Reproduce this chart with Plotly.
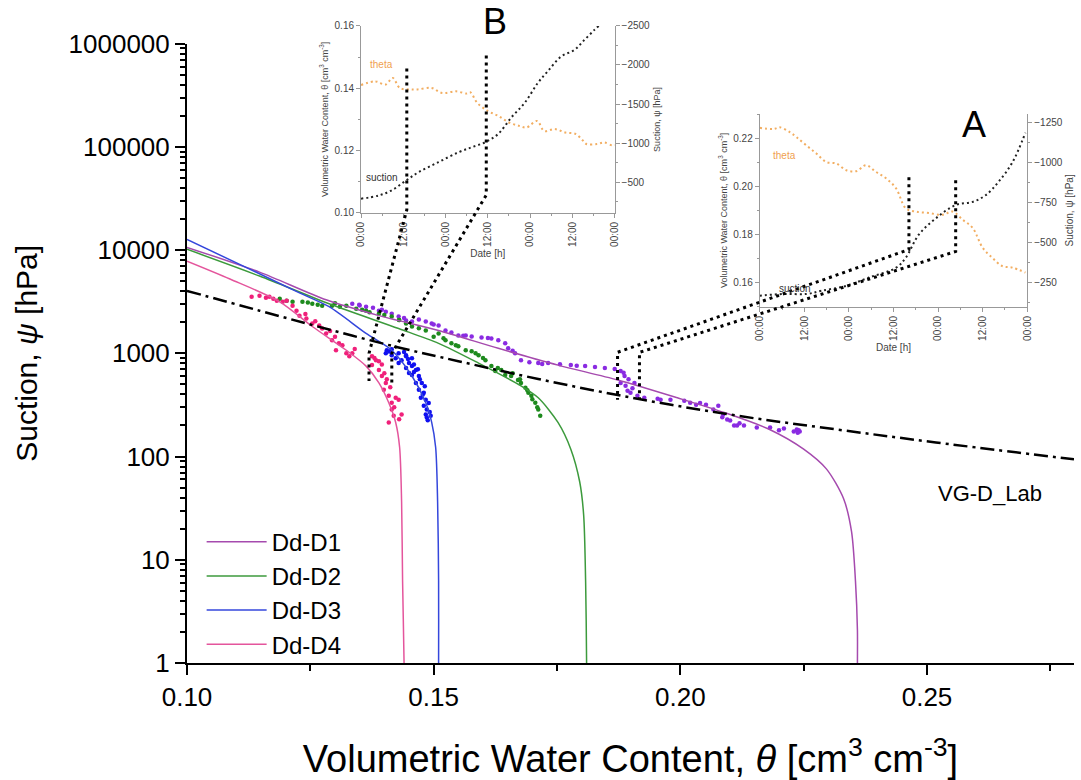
import plotly.graph_objects as go

# ---------------- main chart data ----------------
# fitted curves (theta [cm3/cm3], suction [hPa])
d1_curve_theta = [0.1000, 0.1147, 0.1282, 0.1389, 0.1510, 0.1631, 0.1752, 0.1873, 0.1994, 0.2089,
                  0.2181, 0.2250, 0.2296, 0.2331, 0.2347, 0.2355, 0.2359, 0.2359, 0.2359]
d1_curve_psi = [10640, 6120, 3300, 2320, 1665, 1119, 769, 552, 371, 267,
                183, 118, 76, 39, 18.8, 6.25, 2.07, 1, 0.5]

d2_curve_theta = [0.1000, 0.1147, 0.1288, 0.1429, 0.1510, 0.1591, 0.1677, 0.1712, 0.1752, 0.1778,
                  0.1796, 0.1804, 0.1808, 0.1810, 0.1810]
d2_curve_psi = [10180, 5610, 3022, 1740, 1250, 804, 484, 371, 214, 118, 57, 27.4, 6.25, 1, 0.5]

d3_curve_theta = [0.1000, 0.1127, 0.1228, 0.1288, 0.1363, 0.1415, 0.1456, 0.1484, 0.1496, 0.1504,
                  0.1508, 0.1510, 0.1510, 0.1510]
d3_curve_psi = [12690, 6545, 3853, 2829, 1559, 1071, 603, 332, 214, 123, 36.5, 6.25, 1, 0.5]

d4_curve_theta = [0.1000, 0.1087, 0.1188, 0.1254, 0.1323, 0.1363, 0.1389, 0.1409, 0.1423, 0.1431,
                  0.1435, 0.1437, 0.1440, 0.1440]
d4_curve_psi = [7810, 5250, 3159, 1820, 1071, 752, 517, 332, 214, 123, 36.5, 6.25, 1, 0.5]

lab_theta = [0.1000, 0.1147, 0.1288, 0.1429, 0.1550, 0.1712, 0.1913, 0.2115, 0.2317, 0.2518, 0.2798]
lab_psi = [4030, 2590, 1700, 1140, 840, 564, 363, 249, 183, 137, 94]

# measured points
d1_pts_theta = [0.1335, 0.1349, 0.1363, 0.1377, 0.1389, 0.1403, 0.1415, 0.1429, 0.1444, 0.1456,
                0.1470, 0.1484, 0.1496, 0.1510, 0.1524, 0.1536, 0.1550, 0.1565, 0.1577, 0.1597,
                0.1617, 0.1631, 0.1645, 0.1651, 0.1665, 0.1677, 0.1694, 0.1712, 0.1732, 0.1756,
                0.1778, 0.1807, 0.1827, 0.1847, 0.1867, 0.1879, 0.1887, 0.1879, 0.1893, 0.1907,
                0.1913, 0.1889, 0.1899, 0.1927, 0.1954, 0.1980, 0.2008, 0.2020, 0.2032, 0.2052,
                0.2067, 0.2077, 0.2087, 0.2095, 0.2101, 0.2109, 0.2115, 0.2129, 0.2155, 0.2182,
                0.2210, 0.2230, 0.2242, 0.2236,
                0.1350, 0.1395, 0.1440, 0.1500, 0.1560, 0.1610, 0.1660, 0.1720, 0.1790, 0.1885,
                0.1895, 0.1903, 0.1960, 0.2040, 0.2085, 0.2120, 0.2200, 0.2240, 0.2238]
d1_pts_psi = [3022, 2956, 2829, 2767, 2590, 2533, 2424, 2269, 2077, 2032,
              2123, 2032, 1944, 1860, 1665, 1594, 1491, 1491, 1459, 1427,
              1396, 1336, 1250, 1119, 1002, 859, 822, 804, 804, 786,
              769, 752, 736, 720, 704, 674, 603, 517, 433, 517,
              388, 484, 414, 371, 363, 355, 347, 332, 318, 318,
              285, 311, 255, 228, 223, 200, 200, 200, 191, 191,
              187, 175, 175, 183,
              2900, 2650, 2200, 1900, 1480, 1410, 1060, 790, 760, 650,
              560, 460, 355, 330, 240, 210, 180, 180, 170]

d2_pts_theta = [0.1188, 0.1202, 0.1214, 0.1234, 0.1254, 0.1274, 0.1294, 0.1323, 0.1343, 0.1363,
                0.1389, 0.1415, 0.1444, 0.1456, 0.1484, 0.1510, 0.1524, 0.1536, 0.1550, 0.1565,
                0.1577, 0.1591, 0.1605, 0.1617, 0.1625, 0.1637, 0.1645, 0.1657, 0.1671, 0.1677,
                0.1686, 0.1692, 0.1698, 0.1706, 0.1712, 0.1716, 0.1300, 0.1370, 0.1430, 0.1500,
                0.1245, 0.1265, 0.1310, 0.1355, 0.1400, 0.1430, 0.1470, 0.1520, 0.1545, 0.1585,
                0.1600, 0.1630, 0.1660, 0.1675, 0.1690, 0.1700, 0.1710]
d2_pts_psi = [3376, 3229, 3159, 3159, 3022, 2892, 2892, 2892, 2707, 2590,
              2424, 2269, 1944, 1819, 1665, 1559, 1336, 1250, 1170, 1071,
              1047, 959, 859, 752, 674, 689, 617, 603, 552, 517,
              463, 414, 388, 332, 285, 249, 3050, 2500, 2100, 1450,
              3100, 2950, 2820, 2650, 2350, 2100, 1750, 1400, 1200, 1000,
              900, 720, 640, 560, 440, 360, 300]

d3_pts_theta = [0.1405, 0.1415, 0.1429, 0.1444, 0.1423, 0.1435, 0.1450, 0.1456, 0.1444, 0.1464,
                0.1456, 0.1470, 0.1464, 0.1476, 0.1470, 0.1480, 0.1474, 0.1484, 0.1480, 0.1486,
                0.1484, 0.1494, 0.1486, 0.1444, 0.1456, 0.1429, 0.1450, 0.1403, 0.1415,
                0.1410, 0.1440, 0.1448, 0.1460, 0.1468, 0.1460, 0.1472, 0.1482, 0.1478, 0.1490,
                0.1492, 0.1488]
d3_pts_psi = [1071, 1095, 1002, 959, 898, 859, 804, 752, 720, 689,
              617, 603, 517, 517, 443, 414, 371, 355, 311, 285,
              255, 249, 239, 938, 898, 804, 645, 1002, 959,
              1040, 1030, 880, 780, 700, 660, 560, 480, 400, 330,
              270, 225]

d4_pts_theta = [0.1131, 0.1147, 0.1167, 0.1182, 0.1194, 0.1202, 0.1214, 0.1222, 0.1228, 0.1242,
                0.1254, 0.1268, 0.1274, 0.1282, 0.1294, 0.1308, 0.1302, 0.1323, 0.1335, 0.1329,
                0.1375, 0.1383, 0.1389, 0.1375, 0.1389, 0.1395, 0.1403, 0.1399, 0.1409, 0.1415,
                0.1423, 0.1429, 0.1415, 0.1419, 0.1409, 0.1435,
                0.1160, 0.1175, 0.1240, 0.1260, 0.1290, 0.1300, 0.1315, 0.1340, 0.1380, 0.1395,
                0.1400, 0.1405, 0.1412, 0.1420, 0.1430]
d4_pts_psi = [3527, 3606, 3527, 3229, 3159, 3229, 2892, 2590, 2319, 2170,
              1944, 1860, 1740, 1559, 1336, 1250, 1071, 1002, 1002, 938,
              938, 859, 840, 769, 689, 603, 517, 443, 388, 332,
              371, 355, 285, 249, 214, 255,
              3450, 3380, 2400, 2050, 1650, 1450, 1200, 1100, 900, 780,
              640, 560, 470, 300, 230]

# ---------------- inset data (hours from start) ----------------
b_theta_t = [0, 4, 7, 9, 11, 14, 16, 20, 23, 27, 30, 31, 33, 36, 39, 42, 45, 47, 50, 52,
             55, 58, 61, 63, 64, 67, 69, 71.5, 72]
b_theta = [0.1410, 0.1422, 0.1412, 0.1433, 0.1401, 0.1396, 0.1396, 0.1401, 0.1385, 0.1390,
           0.1383, 0.1387, 0.1353, 0.1327, 0.1311, 0.1290, 0.1279, 0.1274, 0.1295, 0.1263,
           0.1269, 0.1258, 0.1253, 0.1232, 0.1221, 0.1221, 0.1226, 0.1216, 0.1218]
b_suction_t = [0, 5, 8.8, 12.6, 16.4, 22, 27.7, 31.4, 35.2, 39, 42.7, 46.5, 50.2, 53, 56.8,
               60.6, 63.4, 66.2, 67.5]
b_suction = [-290, -330, -399, -516, -630, -757, -884, -947, -1010, -1120, -1330, -1517,
             -1770, -1918, -2108, -2193, -2319, -2446, -2500]

a_theta_t = [0, 3.7, 5.4, 8.1, 9.9, 12.6, 15.3, 17.9, 20.6, 23.3, 26, 28.6, 31.3, 34, 36.7,
             39.3, 42, 45.5, 49.2, 51.9, 54.6, 57.3, 60, 62.6, 65.3, 68, 71.5]
a_theta = [0.2245, 0.2240, 0.2247, 0.2227, 0.2206, 0.2171, 0.2137, 0.2102, 0.2096, 0.2068,
           0.2064, 0.2089, 0.2061, 0.2034, 0.1992, 0.1909, 0.1895, 0.1889, 0.1882, 0.1895,
           0.1861, 0.1827, 0.1744, 0.1702, 0.1667, 0.1661, 0.1640]
a_suction_t = [0, 6.4, 12.6, 16.6, 23.3, 29.4, 36.7, 39.3, 42.8, 47.4, 52.7, 57.3, 60.8, 64.2,
               68, 71.5]
a_suction = [-165, -176, -176, -196, -227, -279, -341, -403, -548, -651, -734, -754, -796,
             -878, -1002, -1188]

hour_ticks = [0, 12, 24, 36, 48, 60, 72]
hour_labels = ["00:00", "12:00", "00:00", "12:00", "00:00", "12:00", "00:00"]

series_names = ["Dd-D1", "Dd-D2", "Dd-D3", "Dd-D4"]
line_colors = ["#A54AAE", "#3C9A3C", "#3447DC", "#E4559C"]
point_colors = ["#8A2BE2", "#1E8A1E", "#1010F0", "#F0207A"]

FONT = "Liberation Sans, Arial, sans-serif"

fig = go.Figure()

curves = [(d1_curve_theta, d1_curve_psi), (d2_curve_theta, d2_curve_psi),
          (d3_curve_theta, d3_curve_psi), (d4_curve_theta, d4_curve_psi)]
points = [(d1_pts_theta, d1_pts_psi), (d2_pts_theta, d2_pts_psi),
          (d3_pts_theta, d3_pts_psi), (d4_pts_theta, d4_pts_psi)]

for (px, py), col in zip(points, point_colors):
    fig.add_trace(go.Scatter(x=px, y=py, mode="markers", showlegend=False,
                             marker=dict(color=col, size=4.5, symbol="circle"),
                             xaxis="x", yaxis="y"))

for (cx, cy), col, name in zip(curves, line_colors, series_names):
    fig.add_trace(go.Scatter(x=cx, y=cy, mode="lines", name=name, legendgroup=name,
                             line=dict(color=col, width=1.5, shape="spline", smoothing=0.8),
                             xaxis="x", yaxis="y"))

fig.add_trace(go.Scatter(x=lab_theta, y=lab_psi, mode="lines", showlegend=False,
                         line=dict(color="black", width=2.5, dash="14px,5px,3px,5px",
                                   shape="spline"),
                         xaxis="x", yaxis="y"))

# inset B
fig.add_trace(go.Scatter(x=b_theta_t, y=b_theta, mode="lines", showlegend=False,
                         line=dict(color="#F2AE62", width=2, dash="2px,3px", shape="spline"),
                         xaxis="x2", yaxis="y3"))
fig.add_trace(go.Scatter(x=b_suction_t, y=b_suction, mode="lines", showlegend=False,
                         line=dict(color="#222222", width=2, dash="2px,3px", shape="spline"),
                         xaxis="x2", yaxis="y4"))
# inset A
fig.add_trace(go.Scatter(x=a_theta_t, y=a_theta, mode="lines", showlegend=False,
                         line=dict(color="#F2AE62", width=2, dash="2px,3px", shape="spline"),
                         xaxis="x3", yaxis="y5"))
fig.add_trace(go.Scatter(x=a_suction_t, y=a_suction, mode="lines", showlegend=False,
                         line=dict(color="#222222", width=2, dash="2px,3px", shape="spline"),
                         xaxis="x3", yaxis="y6"))

major_log = [1, 10, 100, 1000, 10000, 100000, 1000000]
minor_log = [m * 10 ** k for k in range(6) for m in range(2, 10)]

inset_axis = dict(showline=True, linecolor="#999999", linewidth=1, ticks="outside",
                  tickcolor="#999999", ticklen=4, tickfont=dict(size=10, color="#444444"),
                  showgrid=False, zeroline=False)

fig.update_layout(
    width=1081, height=780, autosize=False,
    margin=dict(l=187, r=2, t=10, b=117),
    paper_bgcolor="white", plot_bgcolor="white",
    font=dict(family=FONT, color="black"),
    xaxis=dict(domain=[0, 1], anchor="y", range=[0.1, 0.2798],
               tickvals=[0.10, 0.15, 0.20, 0.25], ticktext=["0.10", "0.15", "0.20", "0.25"],
               ticks="outside", ticklen=10, tickwidth=2, tickcolor="black",
               showline=True, linewidth=2, linecolor="black", showgrid=False, zeroline=False,
               minor=dict(tickvals=[0.125, 0.175, 0.225, 0.275], ticks="outside",
                          ticklen=6, tickwidth=2, tickcolor="black"),
               tickfont=dict(size=26),
               title=dict(text="Volumetric Water Content, <i>θ</i> [cm<sup>3</sup> cm<sup>-3</sup>]",
                          font=dict(size=38), standoff=34)),
    yaxis=dict(domain=[0, 0.9587], anchor="x", type="log", range=[0, 6],
               tickvals=major_log, ticktext=[str(v) for v in major_log],
               ticks="outside", ticklen=10, tickwidth=2, tickcolor="black",
               showline=True, linewidth=2, linecolor="black", showgrid=False, zeroline=False,
               minor=dict(tickvals=minor_log, ticks="outside", ticklen=5, tickwidth=1.5,
                          tickcolor="black"),
               tickfont=dict(size=26),
               title=dict(text="Suction, <i>ψ</i> [hPa]", font=dict(size=30), standoff=22)),
    xaxis2=dict(inset_axis, domain=[0.19619, 0.48206], anchor="y3", range=[0, 72],
                tickvals=hour_ticks, ticktext=hour_labels, tickangle=-90,
                minor=dict(dtick=6, ticks="outside", ticklen=2, tickcolor="#999999"),
                title=dict(text="Date [h]", font=dict(size=10, color="#444444"), standoff=4)),
    yaxis3=dict(inset_axis, domain=[0.69678, 0.98622], anchor="x2", range=[0.10, 0.16],
                tickvals=[0.10, 0.12, 0.14, 0.16], ticktext=["0.10", "0.12", "0.14", "0.16"],
                minor=dict(dtick=0.01, ticks="outside", ticklen=2, tickcolor="#999999"),
                title=dict(text="Volumetric Water Content, θ [cm<sup>3</sup> cm<sup>-3</sup>]",
                           font=dict(size=9, color="#444444"), standoff=4)),
    yaxis4=dict(inset_axis, overlaying="y3", anchor="x2", side="right", range=[-108, -2500],
                tickvals=[-2500, -2000, -1500, -1000, -500],
                minor=dict(dtick=250, ticks="outside", ticklen=2, tickcolor="#999999"),
                title=dict(text="Suction, ψ [hPa]", font=dict(size=9, color="#444444"), standoff=4)),
    xaxis3=dict(inset_axis, domain=[0.6457, 0.9473], anchor="y5", range=[0, 72],
                tickvals=hour_ticks, ticktext=hour_labels, tickangle=-90,
                minor=dict(dtick=6, ticks="outside", ticklen=2, tickcolor="#999999"),
                title=dict(text="Date [h]", font=dict(size=10, color="#444444"), standoff=4)),
    yaxis5=dict(inset_axis, domain=[0.5513, 0.8499], anchor="x3", range=[0.1497, 0.2303],
                tickvals=[0.16, 0.18, 0.20, 0.22], ticktext=["0.16", "0.18", "0.20", "0.22"],
                minor=dict(dtick=0.01, ticks="outside", ticklen=2, tickcolor="#999999"),
                title=dict(text="Volumetric Water Content, θ [cm<sup>3</sup> cm<sup>-3</sup>]",
                           font=dict(size=9, color="#444444"), standoff=4)),
    yaxis6=dict(inset_axis, overlaying="y5", anchor="x3", side="right", range=[-95, -1306],
                tickvals=[-1250, -1000, -750, -500, -250],
                minor=dict(dtick=125, ticks="outside", ticklen=2, tickcolor="#999999"),
                title=dict(text="Suction, ψ [hPa]", font=dict(size=10, color="#444444"), standoff=4)),
    legend=dict(x=0.0165, y=0.222, xanchor="left", yanchor="top", bgcolor="rgba(0,0,0,0)",
                font=dict(size=24), tracegroupgap=0, itemwidth=60),
)

# connector lines from the main chart to the insets (paper coordinates)
def path(pts):
    return "M " + " L ".join(f"{x},{y}" for x, y in pts)

connectors = [
    [(0.2478, 0.9204), (0.2478, 0.7014), (0.2052, 0.4793), (0.2052, 0.4364)],
    [(0.3374, 0.9403), (0.3374, 0.7243), (0.2309, 0.4793), (0.2309, 0.4334)],
    [(0.8139, 0.7519), (0.8139, 0.6401), (0.4854, 0.4809), (0.4854, 0.4074)],
    [(0.8666, 0.7473), (0.8666, 0.6371), (0.5101, 0.4809), (0.5101, 0.4074)],
]
for c in connectors:
    fig.add_shape(type="path", path=path(c), xref="paper", yref="paper",
                  line=dict(color="black", width=3, dash="3px,4px"))

annots = [
    dict(x=0.3476, y=0.9935, text="B", font=dict(size=36)),
    dict(x=0.8868, y=0.8330, text="A", font=dict(size=36)),
    dict(x=0.2197, y=0.9265, text="theta", font=dict(size=10, color="#F0A050")),
    dict(x=0.2197, y=0.7519, text="suction", font=dict(size=10, color="#333333")),
    dict(x=0.6738, y=0.7856, text="theta", font=dict(size=10, color="#F0A050")),
    dict(x=0.6850, y=0.5804, text="suction", font=dict(size=10, color="#333333")),
    dict(x=0.9050, y=0.2619, text="VG-D_Lab", font=dict(size=22)),
]
for a in annots:
    fig.add_annotation(xref="paper", yref="paper", showarrow=False,
                       xanchor="center", yanchor="middle", **a)

fig.write_html("out.html")
